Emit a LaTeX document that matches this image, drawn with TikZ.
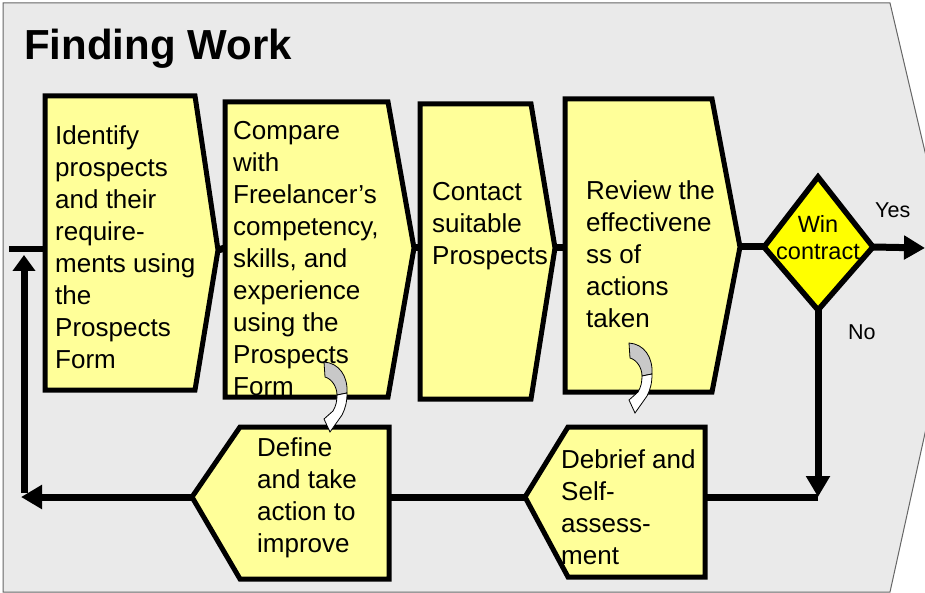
\documentclass[tikz,border=0pt]{standalone}
\usepackage{fontspec}
\setmainfont{Liberation Sans}
\usetikzlibrary{arrows.meta}
\definecolor{bg}{HTML}{EAEAEA}
\definecolor{boxy}{HTML}{FFFF99}
\definecolor{diay}{HTML}{FFFF00}
\definecolor{curlg}{HTML}{C8C8C8}
\newcommand\toptext[1]{\begin{tabular}[t]{@{}l@{}}#1\end{tabular}}
\newcommand\ctrtext[1]{\begin{tabular}[t]{@{}c@{}}#1\end{tabular}}
\begin{document}
\begin{tikzpicture}[x=1pt,y=-1pt,
  stepbox/.style={draw=black,line width=5pt,fill=boxy,line join=miter},
  decbox/.style={draw=black,line width=5.5pt,fill=diay,line join=miter},
  conn/.style={draw=black,line width=7pt},
  arr/.style={conn,-{Triangle[length=21pt,width=23pt]}},
  shortarr/.style={conn,-{Triangle[length=16pt,width=22pt]}},
  lbl/.style={inner sep=0pt,anchor=base west,font=\fontsize{26}{32}\selectfont},
  small/.style={inner sep=0pt,font=\fontsize{21.5}{25}\selectfont},
  curl/.pic={
    \path[draw=black,line width=0.8pt,fill=curlg] (0,0) .. controls (15,1) and (24,14) .. (23,31) -- (13,33) .. controls (13,25) and (8,17) .. (1,15) -- cycle;
    \path[draw=black,line width=0.8pt,fill=white] (23,31) .. controls (23,41) and (21,47) .. (18,53) -- (6,70) -- (0,57) -- (9,49) .. controls (12,44) and (13,39) .. (13,33) -- cycle;
  }]
\useasboundingbox (0,0) rectangle (925,593);
\clip (0,0) rectangle (925,593);
% background panel
\path[fill=bg,draw=black!60,line width=1pt] (3,3) -- (890,3) -- (957,288) -- (890,592) -- (3,592) -- cycle;
% anchor coordinates
\coordinate (b1w) at (45,249);  \coordinate (b1e) at (218,250);
\coordinate (b2w) at (225,248); \coordinate (b2e) at (414,248);
\coordinate (b3w) at (420,248); \coordinate (b3e) at (555,248);
\coordinate (b4w) at (565,248); \coordinate (b4e) at (740,247);
\coordinate (dmw) at (764,247); \coordinate (dme) at (873,247);
\coordinate (dms) at (818,310);
\coordinate (yesend) at (925,248);
\coordinate (nocorner) at (818,497);
\coordinate (dbe) at (705,497); \coordinate (dbw) at (525,497);
\coordinate (dfe) at (389,497); \coordinate (dfw) at (192,497);
\coordinate (leftcorner) at (21,497);
\coordinate (leftbar) at (24,493);
\coordinate (upend) at (24,255);
\coordinate (leftstart) at (9,249);
% connectors
\draw[conn] (b1e) -- (b2w);
\draw[conn] (b2e) -- (b3w);
\draw[conn] (b3e) -- (b4w);
\draw[conn] (b4e) -- (dmw);
\draw[arr] (dme) -- (yesend);
\draw[arr] (dms) -- (nocorner);
\draw[conn] (nocorner) -- (dbe);
\draw[conn] (dbw) -- (dfe);
\draw[arr] (dfw) -- (leftcorner);
\draw[shortarr] (leftbar) -- (upend);
\draw[conn,line width=6pt] (leftstart) -- (b1w);
% process shapes
\path[stepbox] (45,96) -- (195,96) -- (218,250) -- (195,390) -- (45,390) -- cycle;
\path[stepbox] (225,102) -- (388,102) -- (414,248) -- (388,397) -- (225,397) -- cycle;
\path[stepbox] (420,104) -- (531,104) -- (555,248) -- (531,399) -- (420,399) -- cycle;
\path[stepbox] (565,99) -- (712,99) -- (740,247) -- (712,392) -- (565,392) -- cycle;
\path[decbox] (818,177) -- (873,247) -- (818,310) -- (764,247) -- cycle;
\path[stepbox] (705,427) -- (568,427) -- (525,497) -- (568,577) -- (705,577) -- cycle;
\path[stepbox] (389,427) -- (240,427) -- (192,497) -- (240,579) -- (389,579) -- cycle;
% texts
\node[inner sep=0pt,anchor=base west,font=\fontsize{42}{50}\selectfont\bfseries] (title) at (24,60) {Finding Work};
\node[lbl] (t1) at (55,145) {\toptext{Identify\\prospects\\and their\\require-\\ments using\\the\\Prospects\\Form}};
\node[lbl] (t2) at (233,140) {\toptext{Compare\\with\\Freelancer’s\\competency,\\skills, and\\experience\\using the\\Prospects\\Form}};
\node[lbl] (t3) at (432,201) {\toptext{Contact\\suitable\\Prospects}};
\node[lbl] (t4) at (586,200) {\toptext{Review the\\effectivene\\ss of\\actions\\taken}};
\node[lbl] (t5) at (561,468) {\toptext{Debrief and\\Self-\\assess-\\ment}};
\node[lbl] (t6) at (257,456) {\toptext{Define\\and take\\action to\\improve}};
\node[inner sep=0pt,anchor=base,font=\fontsize{23.5}{27}\selectfont] (wc) at (818,233) {\ctrtext{Win\\contract}};
\node[small,anchor=base west] (yes) at (875,218) {Yes};
\node[small,anchor=base west] (no) at (848,339) {No};
% curled arrows
\pic at (324,362) {curl};
\pic at (629,343) {curl};
\end{tikzpicture}
\end{document}
